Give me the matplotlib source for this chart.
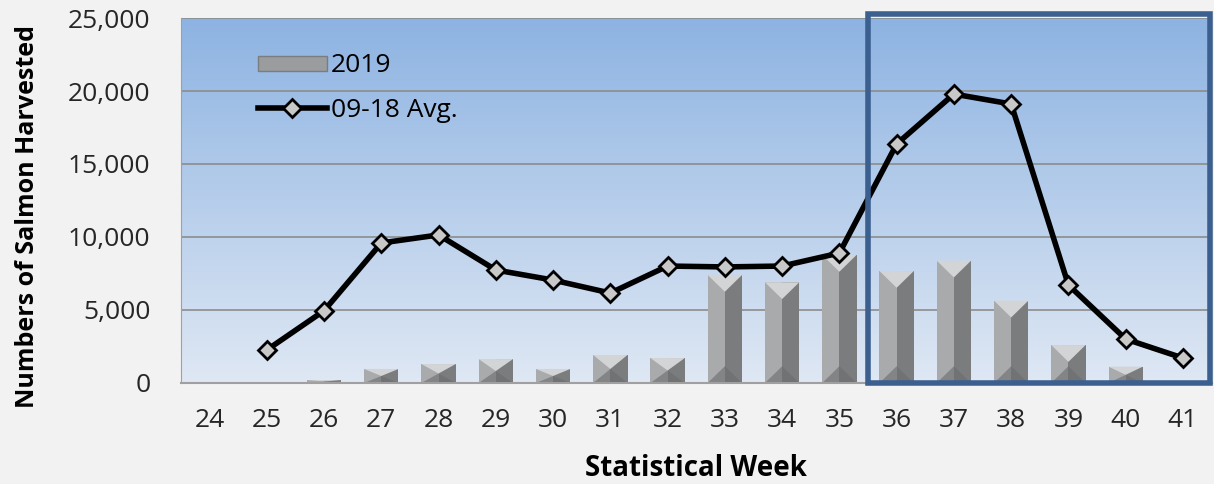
import numpy as np
import matplotlib
matplotlib.use('Agg')
import matplotlib.pyplot as plt
from matplotlib.patches import Polygon, Rectangle
from matplotlib.lines import Line2D

weeks = [24, 25, 26, 27, 28, 29, 30, 31, 32, 33, 34, 35, 36, 37, 38, 39, 40, 41]
harvest_2019 = [0, 0, 200, 960, 1300, 1640, 960, 1920, 1710, 7400, 6900, 8770,
                7670, 8380, 5640, 2600, 1120, 0]
avg_09_18 = [None, 2260, 4950, 9590, 10140, 7740, 7050, 6160, 8010, 7950, 8010,
             8900, 16370, 19790, 19110, 6710, 3010, 1710]

plt.rcParams['font.family'] = ['Open Sans', 'DejaVu Sans']

fig = plt.figure(figsize=(12.14, 4.84), dpi=100, facecolor='#f2f2f2')
ax = fig.add_axes([0.149, 0.2087, 0.849, 0.7541])
ax.set_facecolor('#dde7f3')

x = np.arange(len(weeks))
ax.set_xlim(-0.5, len(weeks) - 0.5)
ax.set_ylim(0, 25000)

# gradient background
grad = np.linspace(0, 1, 256).reshape(-1, 1)
top = np.array([0x8d, 0xb3, 0xe2]) / 255
bot = np.array([0xdf, 0xe8, 0xf4]) / 255
img = top * (1 - grad[..., None]) + bot * grad[..., None]
img = np.repeat(img, 2, axis=1)
ax.imshow(img, extent=[-0.5, len(weeks) - 0.5, 0, 25000], aspect='auto',
          zorder=0, origin='upper')

for yv in range(5000, 25001, 5000):
    ax.axhline(yv, color='#8c8c8c', lw=1.2, zorder=1)

# bevelled bars
w = 0.6
for i, h in enumerate(harvest_2019):
    if h <= 0:
        continue
    left, right = i - w / 2, i + w / 2
    cap = min(1150, h / 2)
    ax.add_patch(Rectangle((left, 0), w / 2, h, facecolor='#a8aaac',
                           edgecolor='none', zorder=2))
    ax.add_patch(Rectangle((i, 0), w / 2, h, facecolor='#7a7c7e',
                           edgecolor='none', zorder=2))
    ax.add_patch(Polygon([(left, h), (right, h), (i, h - cap)], closed=True,
                         facecolor='#d2d4d5', edgecolor='none', zorder=2))
    ax.add_patch(Polygon([(left, 0), (right, 0), (i, cap)],
                         closed=True, facecolor='#6a6c6e', edgecolor='none',
                         zorder=2, alpha=0.6))

ya = np.array([np.nan if v is None else v for v in avg_09_18], dtype=float)
ax.plot(x, ya, color='black', lw=4, marker='D', markersize=9,
        markerfacecolor='#c8c8c8', markeredgecolor='black',
        markeredgewidth=2, zorder=4)

# highlight box for weeks 36-41
i36 = weeks.index(36)
ax.add_patch(Rectangle((i36 - 0.5, 0), len(weeks) - i36 - 0.03, 25300,
                       fill=False, edgecolor='#3b5f8f', lw=4, zorder=5,
                       clip_on=False))

ax.set_xticks(x)
ax.set_xticklabels([str(wk) for wk in weeks], fontsize=19, color='#262626')
ax.set_yticks(range(0, 25001, 5000))
ax.set_yticklabels([f'{v:,}' for v in range(0, 25001, 5000)], fontsize=19,
                   color='#262626')
ax.tick_params(length=0)
ax.tick_params(axis='y', pad=22)
ax.tick_params(axis='x', pad=18)
for s in ['top', 'right']:
    ax.spines[s].set_visible(False)
ax.spines['left'].set_color('#a0a0a0')
ax.spines['bottom'].set_color('#a0a0a0')
ax.spines['bottom'].set_linewidth(1.5)

ax.set_xlabel('Statistical Week', fontsize=20, fontweight='bold', va='center')
ax.set_ylabel('Numbers of Salmon Harvested', fontsize=18, fontweight='bold',
              va='center')
ax.xaxis.set_label_coords(0.5, -0.233)
ax.yaxis.set_label_coords(-0.149, 0.455)

handles = [Rectangle((0, 0), 1, 1, facecolor='#9a9c9e', edgecolor='#7b7e80'),
           Line2D([], [], color='black', lw=4, marker='D', markersize=9,
                  markerfacecolor='#c8c8c8', markeredgecolor='black',
                  markeredgewidth=2)]
ax.legend(handles, ['2019', '09-18 Avg.'], loc='upper left',
          bbox_to_anchor=(0.075, 0.903), frameon=False, fontsize=19,
          handlelength=2.6, handleheight=0.5, handletextpad=0.15,
          labelspacing=0.73, borderpad=0, borderaxespad=0)

fig.savefig('out.png', dpi=100, facecolor=fig.get_facecolor())
